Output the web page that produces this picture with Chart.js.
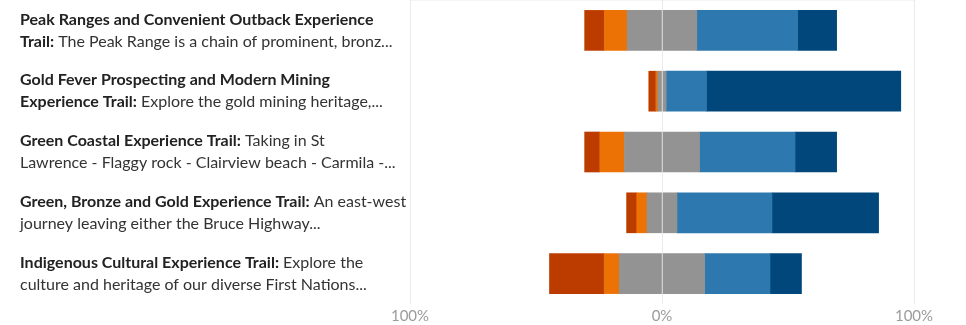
<!DOCTYPE html>
<html>
<head>
<meta charset="utf-8">
<title>Experience trails</title>
<script src="https://cdn.jsdelivr.net/npm/chart.js@4"></script>
<style>
  body { margin: 0; background: #fff; }
  #wrap { width: 966px; height: 325px; position: relative; }
</style>
</head>
<body>
<div id="wrap"><canvas id="trailChart"></canvas></div>
<script>
// Trail names (bold) and blurbs; '\n' marks where the label wraps
const trailNames = [
    "Peak Ranges and Convenient Outback Experience\nTrail:",
    "Gold Fever Prospecting and Modern Mining\nExperience Trail:",
    "Green Coastal Experience Trail:",
    "Green, Bronze and Gold Experience Trail:",
    "Indigenous Cultural Experience Trail:"
];
const trailBlurbs = [
    "The Peak Range is a chain of prominent, bronz...",
    "Explore the gold mining heritage,...",
    "Taking in St\nLawrence - Flaggy rock - Clairview beach - Carmila -...",
    "An east-west\njourney leaving either the Bruce Highway...",
    "Explore the\nculture and heritage of our diverse First Nations..."
];

// Share of responses (%) per rating
const stronglyNegative = [7.8, 2.8, 6.0, 4.0, 21.7];
const negative         = [9.1, 0.8, 9.8, 4.1, 6.0];
const neutral          = [27.6, 3.3, 29.8, 11.9, 33.9];
const positive         = [40.0, 16.0, 37.9, 37.7, 25.9];
const stronglyPositive = [15.5, 77.1, 16.5, 42.3, 12.5];

const xTicks = [-100, 0, 100];

const COLORS = {
    strongNeg: '#bc3c00',
    neg: '#ec7205',
    neutral: '#939393',
    pos: '#2c78af',
    strongPos: '#01477c'
};

// Draw the two-line mixed weight labels left of the bars
const trailLabels = {
    id: 'trailLabels',
    afterDraw(chart) {
        const ctx = chart.ctx;
        const yScale = chart.scales.y;
        ctx.save();
        ctx.textBaseline = 'middle';
        ctx.textAlign = 'left';
        trailNames.forEach((name, i) => {
            const lines = [[]];
            [[name, true], [' ' + trailBlurbs[i], false]].forEach(([text, bold]) => {
                text.split('\n').forEach((part, k) => {
                    if (k > 0) lines.push([]);
                    if (part) lines[lines.length - 1].push({ text: part, bold });
                });
            });
            const cy = yScale.getPixelForValue(i);
            lines.forEach((runs, j) => {
                const y = cy + (j - (lines.length - 1) / 2) * 22;
                let x = 20;
                runs.forEach(r => {
                    ctx.font = (r.bold ? 'bold ' : '') + '16px Lato';
                    ctx.fillStyle = r.bold ? '#222' : '#333';
                    ctx.fillText(r.text, x, y);
                    x += ctx.measureText(r.text).width;
                });
            });
        });
        ctx.restore();
    }
};

const halfNeutral = neutral.map(v => v / 2);

new Chart(document.getElementById('trailChart'), {
    type: 'bar',
    data: {
        labels: trailNames.map(n => n.replace('\n', ' ')),
        datasets: [
            { label: 'Neutral', data: halfNeutral.map(v => -v), backgroundColor: COLORS.neutral },
            { label: 'Neutral', data: halfNeutral, backgroundColor: COLORS.neutral },
            { label: 'Negative', data: negative.map(v => -v), backgroundColor: COLORS.neg },
            { label: 'Strongly negative', data: stronglyNegative.map(v => -v), backgroundColor: COLORS.strongNeg },
            { label: 'Positive', data: positive, backgroundColor: COLORS.pos },
            { label: 'Strongly positive', data: stronglyPositive, backgroundColor: COLORS.strongPos }
        ]
    },
    options: {
        indexAxis: 'y',
        responsive: true,
        maintainAspectRatio: false,
        devicePixelRatio: 1,
        animation: false,
        layout: { padding: { left: 410, right: 52, top: 0, bottom: 0 } },
        datasets: { bar: { barThickness: 40, borderWidth: 0 } },
        plugins: { legend: { display: false }, tooltip: { enabled: false } },
        scales: {
            x: {
                stacked: true,
                min: -100,
                max: 100,
                afterBuildTicks: axis => { axis.ticks = xTicks.map(v => ({ value: v })); },
                afterFit: axis => { axis.height = 21; },
                grid: { color: 'rgba(225,225,225,0.7)', drawTicks: false, z: 1 },
                border: { color: '#ebebeb' },
                ticks: {
                    padding: 3,
                    color: '#9b9b9b',
                    font: { family: 'Lato', size: 15 },
                    callback: v => Math.abs(v) + '%'
                }
            },
            y: {
                stacked: true,
                display: false
            }
        }
    },
    plugins: [trailLabels]
});
</script>
</body>
</html>
